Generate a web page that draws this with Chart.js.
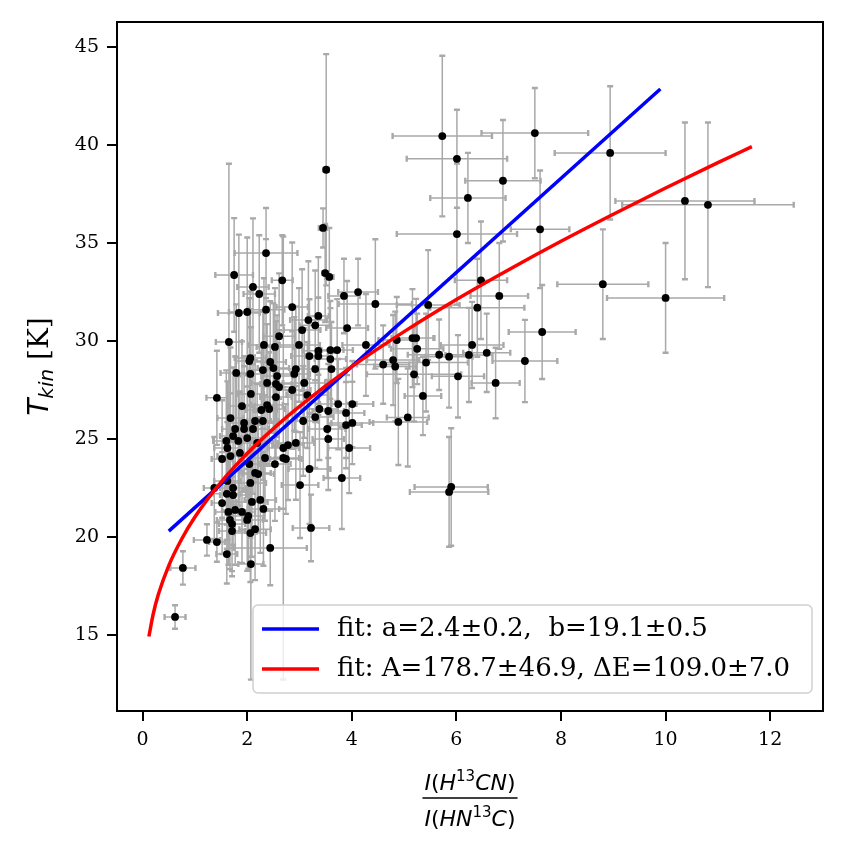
<!DOCTYPE html>
<html>
<head>
<meta charset="utf-8">
<script src="https://cdn.jsdelivr.net/npm/chart.js@4.4.1/dist/chart.umd.min.js"></script>
<style>
  html, body { margin: 0; padding: 0; background: #fff; }
  #wrap { width: 846px; height: 846px; }
</style>
</head>
<body>
<div id="wrap"><canvas id="tkinChart" width="846" height="846"></canvas></div>
<script>
// intensity ratio I(H13CN)/I(HN13C) and its error
const ratio = [
  5.73, 6.01, 7.50, 6.89, 6.22, 8.94, 10.37, 10.81, 3.51, 3.45,
  7.60, 6.01, 8.80, 10.00, 7.64, 7.31, 6.82, 6.58, 6.75, 6.47,
  6.40, 5.46, 4.86, 5.16, 5.23, 5.25, 6.30, 6.24, 5.86, 5.67,
  5.42, 4.79, 4.83, 4.60, 5.19, 6.03, 5.36, 5.07, 4.89, 5.90,
  5.86, 4.45, 1.75, 2.36, 2.67, 3.49, 3.57, 2.11, 2.23, 3.85,
  4.12, 1.84, 2.00, 2.36, 2.86, 3.17, 3.36, 3.30, 3.05, 3.91,
  2.61, 1.65, 2.32, 2.53, 2.99, 4.27, 3.36, 3.59, 3.72, 3.19,
  3.36, 3.59, 3.61, 3.30, 2.06, 2.04, 2.44, 2.50, 2.30, 2.93,
  2.90, 2.57, 2.06, 1.79, 3.09, 2.38, 2.55, 2.61, 2.86, 2.07,
  2.55, 3.15, 1.42, 3.74, 4.01, 1.90, 2.38, 2.27, 2.42, 3.38,
  3.55, 3.89, 1.68, 3.30, 3.07, 4.01, 3.89, 1.94, 2.15, 2.30,
  1.77, 1.94, 2.11, 3.53, 1.73, 2.00, 3.55, 1.60, 1.83, 2.19,
  2.69, 2.78, 2.93, 3.95, 1.62, 1.86, 2.34, 2.69, 2.74, 1.52,
  1.68, 2.04, 2.53, 2.15, 3.19, 2.21, 3.81, 1.62, 2.06, 3.01,
  1.37, 1.73, 1.61, 1.73, 1.52, 2.09, 2.25, 2.31, 1.64, 1.77,
  1.90, 2.02, 1.67, 2.00, 1.71, 2.15, 2.06, 1.71, 3.22, 1.23,
  1.42, 1.61, 2.44, 2.07, 0.77, 0.62
];
const ratioErr = [
  0.95, 0.96, 1.02, 0.72, 0.72, 1.06, 1.33, 1.64, 0.05, 0.08,
  0.56, 1.15, 0.87, 1.12, 0.64, 0.62, 0.55, 0.45, 0.46, 0.50,
  0.90, 0.60, 0.35, 0.40, 0.35, 0.50, 0.60, 0.45, 0.45, 0.60,
  0.80, 0.50, 0.40, 0.50, 0.90, 0.50, 0.35, 0.40, 0.55, 0.70,
  0.75, 0.70, 0.36, 0.60, 0.20, 0.05, 0.08, 0.30, 0.30, 0.30,
  0.38, 0.40, 0.35, 0.35, 0.30, 0.35, 0.20, 0.30, 0.35, 0.40,
  0.30, 0.25, 0.30, 0.35, 0.40, 0.45, 0.30, 0.25, 0.30, 0.35,
  0.25, 0.30, 0.30, 0.35, 0.30, 0.25, 0.30, 0.30, 0.30, 0.35,
  0.30, 0.30, 0.25, 0.30, 0.40, 0.30, 0.30, 0.30, 0.35, 0.25,
  0.30, 0.40, 0.20, 0.35, 0.40, 0.25, 0.30, 0.30, 0.30, 0.35,
  0.30, 0.35, 0.25, 0.35, 0.30, 0.40, 0.30, 0.30, 0.30, 0.30,
  0.25, 0.25, 0.30, 0.35, 0.25, 0.30, 0.30, 0.25, 0.25, 0.30,
  0.30, 0.30, 0.35, 0.40, 0.25, 0.25, 0.30, 0.30, 0.30, 0.20,
  0.25, 0.30, 0.30, 0.30, 0.40, 0.30, 0.35, 0.25, 0.30, 0.35,
  0.20, 0.25, 0.25, 0.25, 0.20, 0.30, 0.30, 0.30, 0.25, 0.25,
  0.25, 0.30, 0.25, 0.30, 0.25, 0.30, 0.30, 0.25, 0.35, 0.25,
  0.15, 0.20, 0.70, 0.24, 0.24, 0.20
];
// kinetic temperature [K] and its error
const tkin = [
  40.46, 39.30, 40.61, 38.18, 37.30, 39.60, 37.15, 36.95, 38.74, 35.77,
  35.70, 35.46, 32.90, 32.20, 30.46, 28.98, 32.30, 29.40, 27.86, 33.10,
  31.70, 31.84, 30.05, 30.15, 30.15, 29.60, 29.80, 29.29, 29.20, 29.30,
  28.90, 29.03, 28.70, 28.80, 28.30, 28.20, 27.20, 26.10, 25.87, 22.55,
  22.30, 31.89, 33.37, 34.49, 33.10, 33.47, 33.27, 32.76, 32.40, 32.30,
  32.50, 31.43, 31.48, 31.60, 31.73, 31.07, 31.28, 30.80, 30.56, 30.66,
  30.25, 29.95, 29.80, 29.70, 29.80, 29.80, 29.50, 29.54, 29.54, 29.23,
  29.23, 29.08, 28.57, 28.57, 29.13, 28.98, 28.93, 28.62, 28.52, 28.57,
  28.32, 28.21, 28.32, 28.37, 27.86, 27.86, 27.81, 27.65, 27.50, 27.30,
  27.14, 27.24, 27.10, 26.78, 26.78, 26.68, 26.73, 26.48, 26.53, 26.53,
  26.43, 26.33, 26.07, 26.12, 25.92, 25.82, 25.71, 25.82, 25.92, 25.92,
  25.51, 25.51, 25.51, 25.51, 25.15, 25.05, 25.00, 24.90, 24.90, 24.80,
  24.54, 24.69, 24.80, 24.54, 24.54, 24.29, 24.03, 24.03, 23.98, 23.98,
  24.13, 23.72, 23.72, 23.27, 23.47, 23.21, 23.01, 22.86, 22.76, 22.65,
  22.50, 22.50, 22.20, 22.14, 21.73, 21.79, 21.89, 21.43, 21.28, 21.38,
  21.28, 21.07, 20.87, 20.87, 20.66, 20.40, 20.20, 20.30, 20.46, 19.85,
  19.74, 19.13, 19.44, 18.62, 18.42, 15.92
];
const tkinErr = [
  4.1, 2.5, 2.3, 3.1, 2.3, 3.4, 4.0, 4.2, 5.9, 1.0,
  3.0, 3.6, 2.8, 2.8, 2.4, 2.1, 2.7, 2.0, 1.8, 3.0,
  2.5, 2.8, 2.2, 2.5, 2.0, 1.8, 2.2, 2.4, 2.6, 1.8,
  2.5, 2.3, 2.8, 2.0, 2.4, 2.1, 2.0, 2.5, 2.2, 3.0,
  2.8, 3.3, 2.9, 2.3, 2.3, 2.5, 2.5, 3.5, 3.0, 1.9,
  1.7, 4.0, 3.8, 3.6, 3.3, 3.0, 3.0, 2.8, 3.1, 2.4,
  3.2, 9.1, 3.4, 3.0, 2.9, 2.6, 2.7, 2.5, 2.6, 2.9,
  3.0, 2.6, 2.4, 2.7, 3.4, 3.2, 3.1, 3.3, 3.0, 3.2,
  2.9, 3.1, 3.3, 3.5, 2.8, 3.0, 3.2, 2.9, 3.0, 3.4,
  3.1, 2.7, 2.4, 2.3, 2.2, 3.3, 3.0, 3.2, 2.9, 2.6,
  2.4, 2.3, 3.6, 2.6, 2.8, 2.1, 2.2, 3.4, 3.1, 3.0,
  3.7, 3.2, 3.3, 2.5, 3.5, 3.2, 2.6, 3.6, 3.3, 3.0,
  3.1, 2.8, 2.9, 2.3, 3.4, 3.1, 3.2, 11.3, 2.8, 3.0,
  3.2, 3.0, 2.9, 3.1, 2.8, 2.9, 2.6, 3.0, 2.8, 2.7,
  2.6, 2.9, 2.8, 2.7, 2.6, 2.8, 2.7, 2.9, 2.7, 2.8,
  2.6, 2.7, 2.5, 2.6, 2.4, 2.6, 2.5, 2.3, 1.7, 0.8,
  1.0, 1.5, 1.9, 5.9, 0.85, 0.6
];

// fitted curves as drawn in the figure
const linFitX = [0.5, 9.9];
const linFitY = [20.3, 42.86];
const expFitX = [0.12, 0.2, 0.3, 0.5, 0.75, 1, 1.5, 2, 2.5, 3, 4, 5, 6, 7, 8, 9, 10, 11, 11.65];
const expFitY = [14.92, 16.04, 17.06, 18.54, 19.91, 21.02, 22.80, 24.26, 25.53, 26.67,
                 28.69, 30.48, 32.12, 33.64, 35.09, 36.47, 37.81, 39.10, 39.92];

const fitLabels = ["fit: a=2.4\u00b10.2,  b=19.1\u00b10.5", "fit: A=178.7\u00b146.9, \u0394E=109.0\u00b17.0"];
const fitColors = ["#0000ff", "#ff0000"];

const xTicks = [0, 2, 4, 6, 8, 10, 12];
const yTicks = [15, 20, 25, 30, 35, 40, 45];

// error bars under the points
const errorBars = {
  id: "errorBars",
  beforeDatasetsDraw(chart) {
    const { ctx, scales: { x, y } } = chart;
    ctx.save();
    ctx.strokeStyle = "#a9a9a9";
    ctx.lineWidth = 1.5;
    ctx.beginPath();
    for (let i = 0; i < ratio.length; i++) {
      const px = x.getPixelForValue(ratio[i]);
      const py = y.getPixelForValue(tkin[i]);
      const x0 = x.getPixelForValue(ratio[i] - ratioErr[i]);
      const x1 = x.getPixelForValue(ratio[i] + ratioErr[i]);
      const y0 = y.getPixelForValue(tkin[i] - tkinErr[i]);
      const y1 = y.getPixelForValue(tkin[i] + tkinErr[i]);
      ctx.moveTo(x0, py); ctx.lineTo(x1, py);
      ctx.moveTo(px, y0); ctx.lineTo(px, y1);
    }
    ctx.stroke();
    // caps
    ctx.lineWidth = 2.4;
    ctx.beginPath();
    for (let i = 0; i < ratio.length; i++) {
      const px = x.getPixelForValue(ratio[i]);
      const py = y.getPixelForValue(tkin[i]);
      const x0 = x.getPixelForValue(ratio[i] - ratioErr[i]);
      const x1 = x.getPixelForValue(ratio[i] + ratioErr[i]);
      const y0 = y.getPixelForValue(tkin[i] - tkinErr[i]);
      const y1 = y.getPixelForValue(tkin[i] + tkinErr[i]);
      ctx.moveTo(x0, py - 3); ctx.lineTo(x0, py + 3);
      ctx.moveTo(x1, py - 3); ctx.lineTo(x1, py + 3);
      ctx.moveTo(px - 3, y0); ctx.lineTo(px + 3, y0);
      ctx.moveTo(px - 3, y1); ctx.lineTo(px + 3, y1);
    }
    ctx.stroke();
    ctx.restore();
  }
};

// frame, legend box and the math axis titles
const decorations = {
  id: "decorations",
  afterDraw(chart) {
    const { ctx, chartArea: a } = chart;
    ctx.save();
    ctx.strokeStyle = "#000";
    ctx.lineWidth = 2;
    ctx.strokeRect(a.left, a.top, a.right - a.left, a.bottom - a.top);

    // legend (lower right)
    const bx = 253, by = 605, bw = 559, bh = 88, r = 5;
    ctx.beginPath();
    ctx.roundRect(bx, by, bw, bh, r);
    ctx.fillStyle = "rgba(255,255,255,0.8)";
    ctx.fill();
    ctx.strokeStyle = "#d0d0d0";
    ctx.lineWidth = 1.5;
    ctx.stroke();
    ctx.font = '26px "DejaVu Serif"';
    ctx.textBaseline = "middle";
    ctx.fillStyle = "#000";
    fitLabels.forEach((lab, i) => {
      const ly = by + 24 + i * 40;
      ctx.strokeStyle = fitColors[i];
      ctx.lineWidth = 3.5;
      ctx.beginPath();
      ctx.moveTo(bx + 9, ly); ctx.lineTo(bx + 66, ly);
      ctx.stroke();
      ctx.fillText(lab, bx + 84, ly);
    });

    // x title: I(H13CN) / I(HN13C)
    const drawMath = (parts, cx, base) => {
      let w = 0;
      parts.forEach(p => { ctx.font = p.font; w += ctx.measureText(p.t).width; });
      let xx = cx - w / 2;
      ctx.textBaseline = "alphabetic";
      ctx.textAlign = "left";
      parts.forEach(p => {
        ctx.font = p.font;
        ctx.fillText(p.t, xx, base + (p.dy || 0));
        xx += ctx.measureText(p.t).width;
      });
      return w;
    };
    const it = 'italic 22px "DejaVu Sans"', up = '22px "DejaVu Sans"', sup = '15px "DejaVu Sans"';
    const num = [{ t: "I", font: it }, { t: "(", font: up }, { t: "H", font: it }, { t: "13", font: sup, dy: -9 },
                 { t: "CN", font: it }, { t: ")", font: up }];
    const den = [{ t: "I", font: it }, { t: "(", font: up }, { t: "HN", font: it }, { t: "13", font: sup, dy: -9 },
                 { t: "C", font: it }, { t: ")", font: up }];
    const cx = (a.left + a.right) / 2;
    const wn = drawMath(num, cx, 790);
    drawMath(den, cx, 826);
    ctx.strokeStyle = "#000";
    ctx.lineWidth = 1.5;
    ctx.beginPath();
    ctx.moveTo(cx - wn / 2 - 2, 798); ctx.lineTo(cx + wn / 2 + 2, 798);
    ctx.stroke();

    // y title: T_kin [K]
    ctx.translate(48, (a.top + a.bottom) / 2);
    ctx.rotate(-Math.PI / 2);
    drawMath([{ t: "T", font: 'italic 28px "DejaVu Sans"' },
              { t: "kin", font: 'italic 20px "DejaVu Sans"', dy: 5 },
              { t: " [K]", font: '28px "DejaVu Serif"' }], 0, 0);
    ctx.restore();
  }
};

const ctx = document.getElementById("tkinChart").getContext("2d");
new Chart(ctx, {
  data: {
    datasets: [
      {
        type: "line",
        label: fitLabels[1],
        data: expFitX.map((v, i) => ({ x: v, y: expFitY[i] })),
        borderColor: fitColors[1],
        borderWidth: 3.5,
        pointRadius: 0,
        cubicInterpolationMode: "monotone",
        order: 0
      },
      {
        type: "line",
        label: fitLabels[0],
        data: linFitX.map((v, i) => ({ x: v, y: linFitY[i] })),
        borderColor: fitColors[0],
        borderWidth: 3.5,
        pointRadius: 0,
        order: 1
      },
      {
        type: "scatter",
        label: "data",
        data: ratio.map((v, i) => ({ x: v, y: tkin[i] })),
        backgroundColor: "#000",
        borderWidth: 0,
        pointRadius: 3.9,
        order: 2
      }
    ]
  },
  options: {
    responsive: false,
    animation: false,
    layout: { padding: { left: 0, right: 23, top: 22, bottom: 0 } },
    plugins: { legend: { display: false }, tooltip: { enabled: false } },
    scales: {
      x: {
        type: "linear",
        min: -0.49,
        max: 13.01,
        afterFit(s) { s.height = 135; },
        afterBuildTicks(s) { s.ticks = xTicks.map(v => ({ value: v })); },
        grid: { drawOnChartArea: false, drawTicks: true, tickLength: 10, color: "#000", lineWidth: 2 },
        border: { display: true, color: "#000", width: 2 },
        ticks: { color: "#000", font: { family: "DejaVu Serif", size: 19 }, padding: 8, maxRotation: 0 }
      },
      y: {
        type: "linear",
        min: 11.12,
        max: 46.28,
        afterFit(s) { s.width = 117; },
        afterBuildTicks(s) { s.ticks = yTicks.map(v => ({ value: v })); },
        grid: { drawOnChartArea: false, drawTicks: true, tickLength: 10, color: "#000", lineWidth: 2 },
        border: { display: true, color: "#000", width: 2 },
        ticks: { color: "#000", font: { family: "DejaVu Serif", size: 19 }, padding: 8 }
      }
    }
  },
  plugins: [errorBars, decorations]
});
</script>
</body>
</html>
